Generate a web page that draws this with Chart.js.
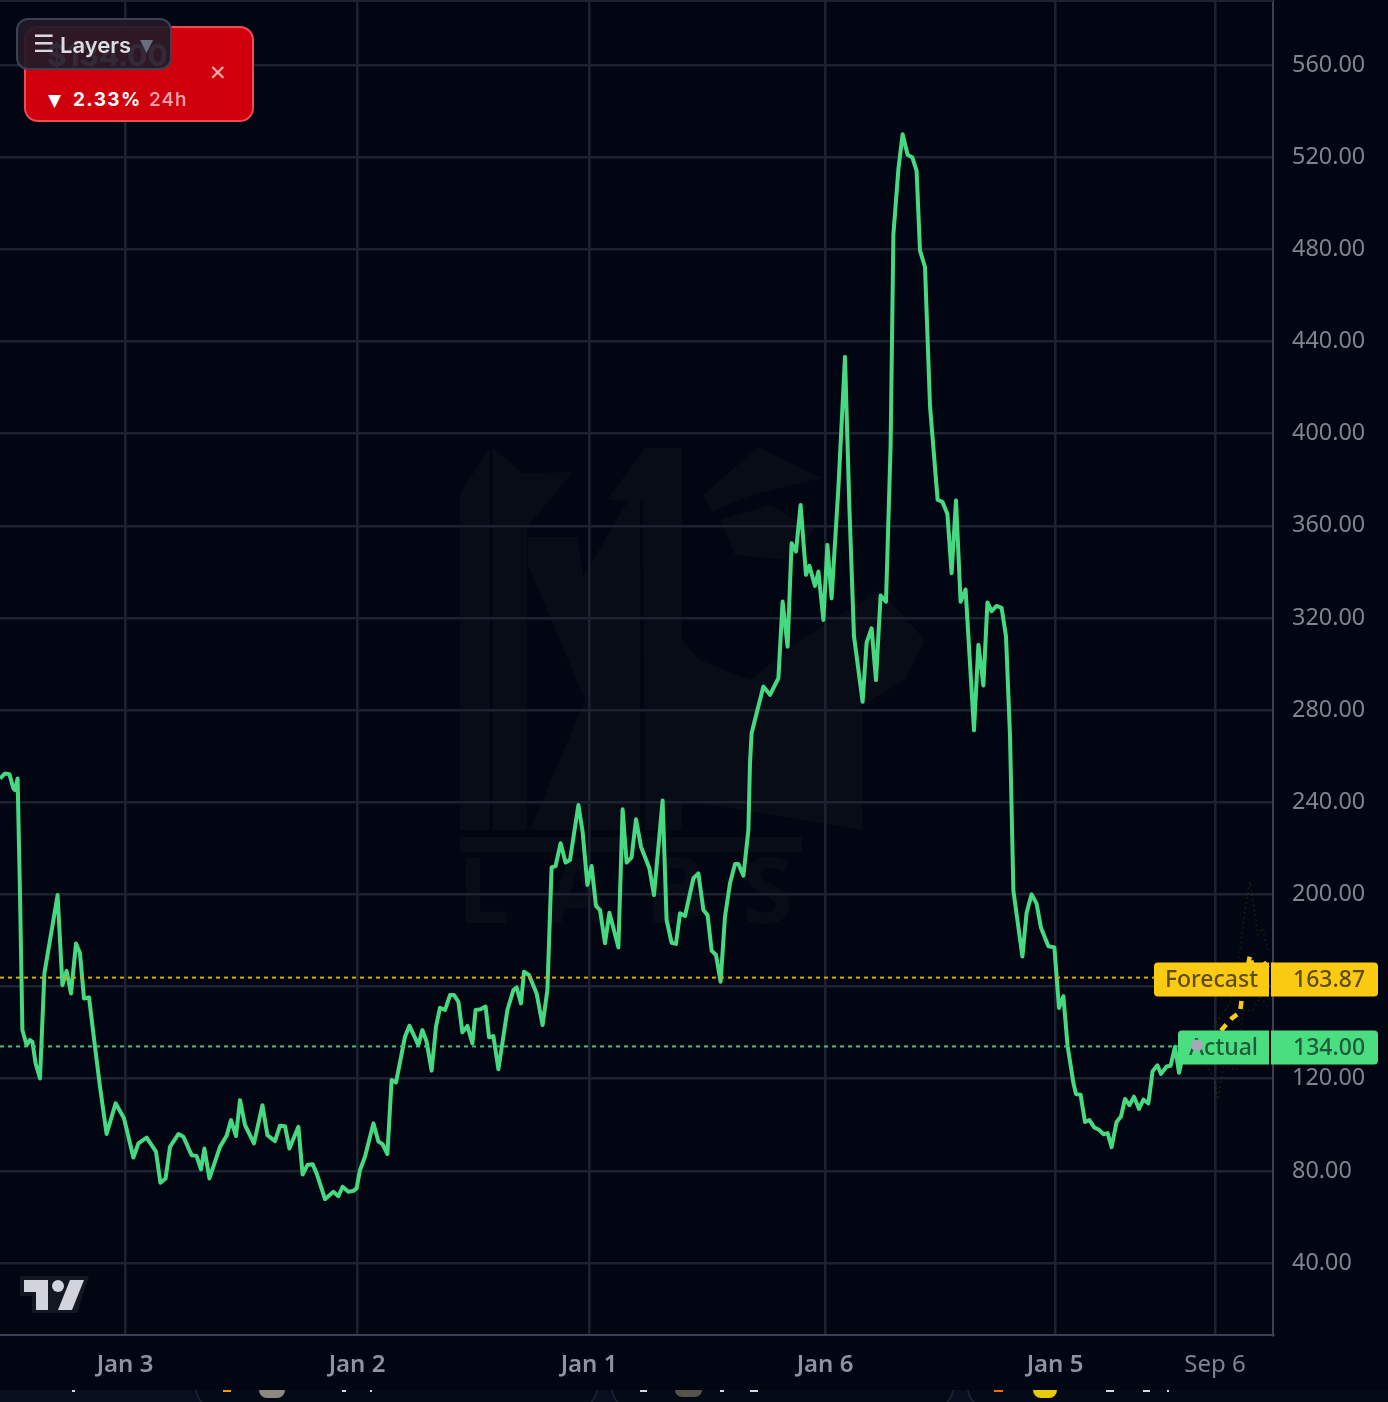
<!DOCTYPE html>
<html>
<head>
<meta charset="utf-8">
<title>Chart</title>
<script src="https://cdn.jsdelivr.net/npm/chart.js@4"></script>
<style>
  html, body { margin: 0; padding: 0; background: #020612; width: 1388px; height: 1402px; overflow: hidden; }
  #wrap { position: relative; width: 1388px; height: 1402px; overflow: hidden; }
  #mark, #logo { position: absolute; left: 0; top: 0; }
  #myChart { position: absolute; left: 0; top: 0; display: block; }
  .t { position: absolute; white-space: pre; font-family: Inter, sans-serif; }
  #card { position: absolute; left: 24px; top: 26px; width: 226px; height: 92px; background: #d0000c; border: 2px solid #ee4a55; border-radius: 14px; overflow: hidden; }
  #layers { position: absolute; left: 16px; top: 18px; width: 152px; height: 48px; border: 2px solid #3a4153; border-radius: 12px; background: rgba(34, 26, 40, 0.93); }
  #strip { position: absolute; left: 0; top: 1390px; width: 1388px; height: 12px; background: #090f1e; overflow: hidden; }
  .foot { position: absolute; top: -30px; height: 50px; background: #050a17; border: 2px solid #182035; border-radius: 0 0 22px 22px; box-sizing: border-box; }
  .bit { position: absolute; top: 0; height: 2px; background: #d6d8de; }
</style>
</head>
<body>
<div id="wrap">
  <!-- marca de agua -->
  <svg id="mark" width="1388" height="1402">
    <g fill="#080c16">
      <polygon points="460,493 490,448 490,830 460,830"/>
      <polygon points="493,448 523,473 573,472 527,527 527,830 493,830"/>
      <polygon points="528,537 578,537 583,577 640,480 640,830 530,830 585,700 528,565"/>
      <polygon points="607,500 645,448 682,448 682,830 645,830 643,502"/>
      <polygon points="703,495 758,447 822,478 752,495 712,512"/>
      <polygon points="720,520 770,505 815,530 790,560 735,555"/>
      <polygon points="682,640 700,660 750,680 800,640 880,590 925,640 905,680 862,705 862,830 682,800"/>
      <rect x="460" y="837" width="342" height="15"/>
    </g>
    <text x="458" y="923" font-family="Noto Sans" font-weight="700" font-size="92" letter-spacing="36" fill="#080c16">LABS</text>
  </svg>

  <canvas id="myChart" width="1388" height="1402"></canvas>

  <!-- logo -->
  <svg id="logo" width="1388" height="1402">
    <polygon points="20,1276 89,1276 77,1313 32,1313 32,1296 20,1296" fill="#131722"/>
    <polygon points="24,1280 48,1280 48,1310 36,1310 36,1292 24,1292" fill="#d1d4dc"/>
    <circle cx="58" cy="1286" r="6" fill="#d1d4dc"/>
    <polygon points="70,1280 84,1280 72,1310 58,1310" fill="#d1d4dc"/>
  </svg>

  <div id="card">
    <span class="t" style="left:21px;top:9px;font-size:30px;font-weight:700;color:#fff;">$134.00</span>
    <span class="t" style="left:22px;top:62px;font-size:17px;color:#fff;font-family:'DejaVu Sans';">▼</span>
    <span class="t" style="left:47px;top:60px;font-size:19px;font-weight:700;color:#fff;letter-spacing:1.4px;">2.33%</span>
    <span class="t" style="left:123px;top:60px;font-size:19px;font-weight:500;color:#f6abb0;letter-spacing:1px;">24h</span>
    <span class="t" style="left:183px;top:33px;font-size:21px;color:#f6abb0;font-family:'DejaVu Sans';">✕</span>
  </div>
  <div id="layers">
    <span class="t" style="left:15px;top:10px;font-size:24px;font-weight:700;color:#d8d8de;font-family:'DejaVu Sans';">☰</span>
    <span class="t" style="left:42px;top:12px;font-size:22px;font-weight:600;color:#dcdce2;">Layers</span>
    <span class="t" style="left:122px;top:15px;font-size:17px;color:#687080;font-family:'DejaVu Sans';">▼</span>
  </div>

  <div id="strip">
    <div class="foot" style="left:195px;width:403px;"></div>
    <div class="foot" style="left:611px;width:343px;"></div>
    <div class="foot" style="left:967px;width:430px;"></div>
    <div class="bit" style="left:72px;width:3px;"></div>
    <div class="bit" style="left:223px;width:8px;background:#f0a010;"></div>
    <div class="bit" style="left:259px;width:26px;height:8px;background:#8d8880;border-radius:0 0 13px 13px;"></div>
    <div class="bit" style="left:342px;width:4px;"></div>
    <div class="bit" style="left:370px;width:2px;"></div>
    <div class="bit" style="left:640px;width:7px;"></div>
    <div class="bit" style="left:675px;width:27px;height:7px;background:#55534a;border-radius:0 0 13px 13px;"></div>
    <div class="bit" style="left:720px;width:4px;"></div>
    <div class="bit" style="left:750px;width:8px;"></div>
    <div class="bit" style="left:994px;width:9px;background:#e8720c;"></div>
    <div class="bit" style="left:1033px;width:24px;height:8px;background:#e8c90e;border-radius:0 0 12px 12px;"></div>
    <div class="bit" style="left:1106px;width:8px;"></div>
    <div class="bit" style="left:1143px;width:7px;"></div>
    <div class="bit" style="left:1167px;width:2px;"></div>
  </div>
</div>

<script>
// Eixos
let yTicks = [40, 80, 120, 160, 200, 240, 280, 320, 360, 400, 440, 480, 520, 560];
let tickBars = [62.5, 178.5, 294.5, 412.5, 527.5, 607.5];
let tickLabels = ["Jan 3", "Jan 2", "Jan 1", "Jan 6", "Jan 5", "Sep 6"];

// Preco real
let bars = [
  0, 2.5, 4.7, 6.7, 7.5, 8.8, 10, 11.2, 13.3, 15, 16.2, 17.8, 20, 22.2, 28.8, 31.2, 33.3, 35.5, 38, 40,
  42, 44.5, 47.5, 50, 53.3, 57.8, 62, 66.7, 69.2, 73.3, 78, 80.2, 82.8, 85, 89.2, 91.7, 95.8, 98.3, 100.5, 102.2,
  104.7, 110, 113.3, 115.5, 118, 120, 122.5, 127, 131.2, 133.7, 137.5, 140, 142.5, 144.7, 149.2, 151.3, 153.7, 156.3, 158.3, 162.5,
  166.7, 169.2, 171.3, 174.2, 176.7, 178.3, 180, 182.5, 186.7, 189.2, 191.3, 193.7, 195.8, 198, 202.5, 204.7, 209.2, 211.2, 213.3, 215.8,
  218, 220, 222.5, 225, 227, 229.2, 231.2, 233.7, 236.2, 237.8, 240.3, 242.8, 244.5, 246.7, 249.2, 253.7, 256.7, 258.3, 260.5, 262,
  264.5, 268.3, 271.3, 273.7, 275.8, 277.8, 280.3, 282.8, 285, 289.2, 291.3, 293.7, 295.8, 298, 300, 302.5, 304.7, 309.2, 311.3, 313.3,
  315.8, 318, 320.5, 324.7, 327, 331.3, 333.3, 335.8, 338, 340, 342.5, 346.7, 349.2, 351.7, 353.8, 355.8, 358, 360.3, 362.5, 365,
  367.5, 369.2, 371.7, 374.2, 375, 375.8, 378.3, 381.7, 385, 389.2, 391.3, 393.8, 395.8, 398, 400.3, 403, 404.7, 407.5, 409.2, 411.7,
  413.7, 415.8, 419.2, 422.5, 424.7, 427, 431.3, 433.3, 435.8, 438, 440.3, 443, 445.3, 446.7, 449.2, 451.3, 453.8, 456.2, 458.3, 460,
  462.5, 465, 468.8, 471.2, 473.7, 475.8, 478, 480.3, 482.8, 487, 489.2, 491.7, 493.7, 495.8, 498.3, 500.8, 503, 505, 506.7, 511.2,
  513.3, 515.8, 518.3, 520.5, 524.2, 527.2, 529.5, 531.7, 533.8, 536.7, 538, 540.3, 542.5, 544.7, 547.2, 549.7, 551.7, 553.8, 555.8, 558.3,
  560.5, 562.5, 564.7, 567, 569.5, 571.7, 574.2, 576.3, 578.7, 580.5, 583.3, 585.3, 587.5, 589.5, 591.5, 594.5, 598.5
];
let prices = [
  250.3, 252.5, 252.2, 246, 245.3, 250.3, 200.4, 141.1, 134.6, 136.8, 136, 126.6, 120.1, 165.7, 199.7, 160.6, 166.8, 157, 178.7, 174.4,
  154.8, 155.3, 133.9, 116.5, 96, 109.3, 102.8, 85.8, 91.9, 94.4, 88.3, 74.8, 76.7, 90.4, 96, 94.8, 86.8, 86.5, 80.6, 89.7,
  76.7, 90.4, 95.2, 102, 95.1, 110.7, 99.9, 91.9, 108.5, 95.5, 92.9, 99.6, 99.4, 89.7, 99.1, 78.4, 82.5, 82.9, 78.9, 67.7,
  70.9, 69, 73.1, 70.9, 71.3, 72.4, 80.4, 86.1, 100.6, 92.7, 91.6, 87.3, 119.4, 118.3, 138.2, 143, 134.6, 141.1, 136.1, 123.5,
  142.6, 150.8, 149.8, 156.3, 156.3, 153.4, 140.1, 142.9, 135.3, 149.8, 150.1, 151.3, 138, 138.5, 124.1, 149.8, 158.5, 159.6, 152.7, 166.4,
  165, 157, 143.3, 158.5, 211.7, 212.3, 222.2, 213.8, 214.9, 238.8, 227.2, 204.1, 212.3, 195, 193.2, 178.8, 192, 177, 236.9, 213.8,
  216.1, 232.6, 220.7, 211.3, 199.7, 240.7, 188.9, 179, 178.5, 191.8, 190.6, 207, 209.1, 193.2, 191, 175.6, 173.7, 162.1, 190.3, 204.8,
  213.2, 213.2, 208.1, 228, 256.9, 269.9, 278.6, 290.2, 286.6, 293.8, 327.1, 307.5, 352.4, 348.8, 369, 338.7, 342.6, 333.9, 340.1, 319.1,
  351.7, 328.5, 376.6, 433.3, 367.8, 312, 283.6, 309.3, 315.5, 293, 329.7, 327, 394.4, 486.5, 514.8, 529.9, 521, 519.8, 514, 479.4,
  472.3, 412.1, 371.3, 370.4, 365.1, 339.4, 371, 327, 332.3, 271.2, 308.4, 290.7, 326.7, 322.9, 325.2, 324.4, 312, 269, 201.6, 173,
  192, 200, 196, 185.5, 177.5, 177, 150.7, 155.8, 134.2, 118.1, 113.3, 113, 101.2, 102, 98.8, 97.7, 95.9, 96.4, 90.3, 101.2,
  103.6, 111.2, 108.5, 112.2, 106.9, 110.9, 109.3, 123.2, 125.8, 122.1, 125.3, 125.6, 133.8, 122.6, 130, 134, 134
];

// Previsao e faixas
let forecastBars = [598.5, 606, 612.5, 616, 620, 621, 625, 626.5, 628, 631, 634];
let forecastPrices = [134, 136, 142.9, 146.3, 148.8, 155.4, 173.6, 168, 166, 171.5, 168];
let upperBars = [598.5, 611.7, 615, 620, 622.5, 625, 629, 631, 634];
let upperPrices = [134, 148.5, 152.9, 175.9, 193.2, 205.4, 182.4, 185.4, 175.9];
let lowerBars = [598.5, 606.5, 609, 611.7, 618.5, 621.5, 626.5, 630, 634];
let lowerPrices = [134, 120.7, 110.8, 125, 123.8, 149.8, 149.8, 155.5, 151];

let actualPrice = 134.0;
let forecastPrice = 163.87;
let lastBar = 636.5;

function pairs(xs, ys) {
  return xs.map((x, i) => ({ x: x, y: ys[i] }));
}

function priceLine(value, color) {
  return {
    data: [{ x: 0, y: value }, { x: lastBar, y: value }],
    borderColor: color,
    borderWidth: 2,
    borderDash: [4, 4],
    pointRadius: 0,
  };
}

function priceTag(ctx, y, left, color, ink, name, value) {
  ctx.fillStyle = color;
  ctx.beginPath();
  ctx.roundRect(left, y - 17, 1269 - left, 34, [4, 0, 0, 4]);
  ctx.fill();
  ctx.beginPath();
  ctx.roundRect(1271, y - 17, 107, 34, [0, 4, 4, 0]);
  ctx.fill();
  ctx.fillStyle = ink;
  ctx.font = "500 23px 'Noto Sans'";
  ctx.textBaseline = "middle";
  ctx.textAlign = "right";
  ctx.fillText(name, 1258, y + 1);
  ctx.textAlign = "left";
  ctx.fillText(value, 1293, y + 1);
}

// Etiquetas e ponto final
let tagsPlugin = {
  id: "tags",
  afterDraw(chart) {
    let ctx = chart.ctx;
    let xs = chart.scales.x;
    let ys = chart.scales.y;
    ctx.save();
    ctx.fillStyle = "#1c2230";
    ctx.fillRect(0, 0, 1273, 2);
    priceTag(ctx, ys.getPixelForValue(forecastPrice) + 2, 1154, "#fbcb14", "#5e4c10", "Forecast", forecastPrice.toFixed(2));
    priceTag(ctx, ys.getPixelForValue(actualPrice) + 1, 1178, "#4ade80", "#1f5a3a", "Actual", actualPrice.toFixed(2));
    ctx.fillStyle = "#a7a9b6";
    ctx.beginPath();
    ctx.arc(xs.getPixelForValue(bars[bars.length - 1]), ys.getPixelForValue(actualPrice) - 1, 6, 0, Math.PI * 2);
    ctx.fill();
    ctx.restore();
  },
};

let ctx = document.getElementById("myChart").getContext("2d");

let myChart = new Chart(ctx, {
  type: "line",
  data: {
    datasets: [
      { data: pairs(upperBars, upperPrices), borderColor: "rgba(240,185,11,0.09)", borderWidth: 2, borderDash: [2, 3], pointRadius: 0 },
      { data: pairs(lowerBars, lowerPrices), borderColor: "rgba(240,185,11,0.09)", borderWidth: 2, borderDash: [2, 3], pointRadius: 0 },
      priceLine(forecastPrice, "#d9a90c"),
      priceLine(actualPrice, "#3fc477"),
      { data: pairs(forecastBars, forecastPrices), borderColor: "#fbcb14", borderWidth: 4.5, borderDash: [8, 7], pointRadius: 0 },
      { data: pairs(bars, prices), borderColor: "#47d982", borderWidth: 4, borderJoinStyle: "round", pointRadius: 0 },
    ],
  },
  options: {
    responsive: false,
    animation: false,
    events: [],
    layout: { padding: 0, autoPadding: false },
    plugins: { legend: { display: false }, tooltip: { enabled: false } },
    scales: {
      x: {
        type: "linear",
        min: 0,
        max: lastBar,
        afterFit: (s) => { s.height = 67; s.paddingLeft = 0; s.paddingRight = 0; },
        afterBuildTicks: (s) => { s.ticks = tickBars.map((v) => ({ value: v })); },
        grid: { color: "#1c2230", lineWidth: 2.5, drawTicks: false },
        border: { color: "#3a4052", width: 2 },
        ticks: {
          autoSkip: false,
          maxRotation: 0,
          padding: 16,
          color: (c) => (c.index === 5 ? "#7f8392" : "#8e92a2"),
          font: (c) => ({ family: "'Noto Sans'", size: 24, weight: c.index === 5 ? "400" : "600" }),
          callback: (v, i) => tickLabels[i],
        },
      },
      y: {
        position: "right",
        min: 8.75,
        max: 588.2,
        afterFit: (s) => { s.width = 115; s.paddingTop = 0; s.paddingBottom = 0; },
        afterBuildTicks: (s) => { s.ticks = yTicks.map((v) => ({ value: v })); },
        grid: { color: "#1c2230", lineWidth: 2.5, drawTicks: false },
        border: { color: "#3a4052", width: 2 },
        ticks: {
          padding: 19,
          color: "#80848f",
          font: { family: "'Noto Sans'", size: 23.4 },
          callback: (v) => v.toFixed(2),
        },
      },
    },
  },
  plugins: [tagsPlugin],
});
</script>
</body>
</html>
